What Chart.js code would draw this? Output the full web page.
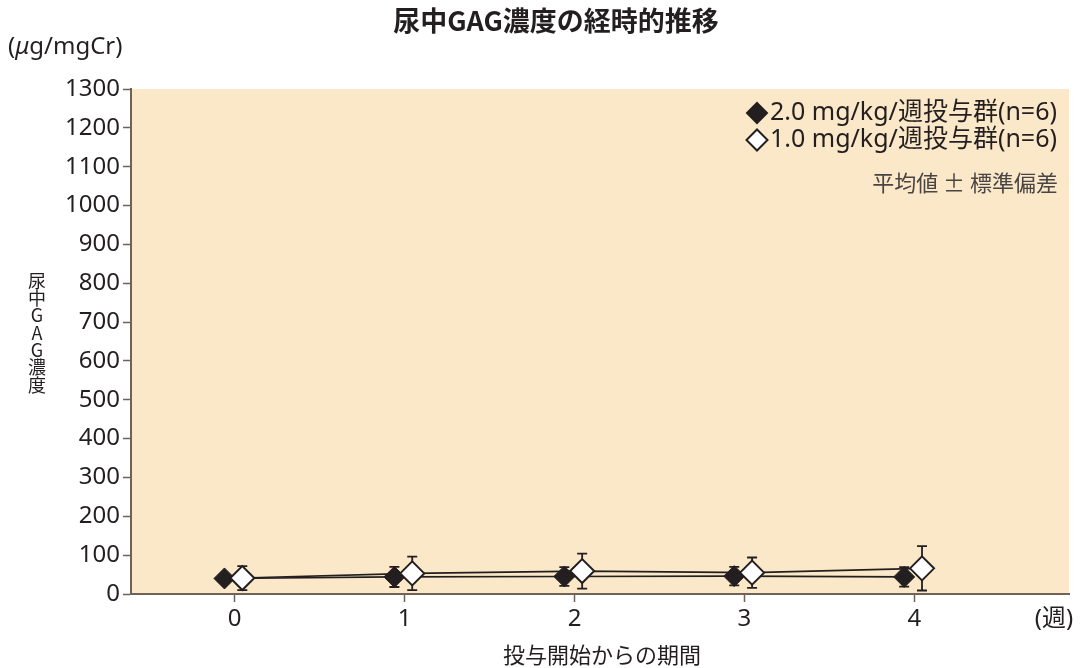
<!DOCTYPE html>
<html>
<head>
<meta charset="utf-8">
<script src="https://cdn.jsdelivr.net/npm/chart.js@4/dist/chart.umd.min.js"></script>
<style>
  html, body { margin: 0; padding: 0; background: #fff; }
  #wrap { width: 1083px; height: 668px; }
</style>
</head>
<body>
<div id="wrap"><canvas id="myChart"></canvas></div>
<script>
// data
const weeks = [0, 1, 2, 3, 4];
const weekLabels = ["0", "1", "2", "3", "4"];
const dose2Mean = [40, 44, 45, 46, 44];
const dose2Sd = [10, 26, 24, 24, 25];
const dose1Mean = [41, 53, 59, 55, 66];
const dose1Sd = [31, 43, 45, 39, 57];
const yTicks = [0, 100, 200, 300, 400, 500, 600, 700, 800, 900, 1000, 1100, 1200, 1300];

const INK = "#231f20";
const AXIS = "#6e6259";
const BG = "#fae8c8";
const FONT = '"Noto Sans", "Noto Sans CJK JP", sans-serif';
const JFONT = '"Noto Sans CJK JP", "Noto Sans", sans-serif';

// small side shift so the two groups don't sit on top of each other
const SHIFT2 = -0.06;
const SHIFT1 = 0.045;

// same order as the datasets below
const sdByDataset = [dose1Sd, dose2Sd];

const plotBg = {
  id: "plotBg",
  beforeDraw: (chart) => {
    const { ctx, chartArea } = chart;
    ctx.save();
    ctx.fillStyle = BG;
    ctx.fillRect(chartArea.left, chartArea.top, chartArea.right - chartArea.left, chartArea.bottom - chartArea.top);
    ctx.restore();
  },
};

const errorBars = {
  id: "errorBars",
  beforeDatasetDraw: (chart, args) => {
    const { ctx } = chart;
    const xs = chart.scales.x;
    const ys = chart.scales.y;
    const ds = chart.data.datasets[args.index];
    const sd = sdByDataset[args.index];
    ctx.save();
    ctx.strokeStyle = INK;
    ctx.lineWidth = 1.8;
    ds.data.forEach((p, i) => {
      const x = xs.getPixelForValue(p.x);
      const yt = ys.getPixelForValue(p.y + sd[i]);
      const yb = ys.getPixelForValue(p.y - sd[i]);
      ctx.beginPath();
      ctx.moveTo(x, yt);
      ctx.lineTo(x, yb);
      ctx.moveTo(x - 5, yt);
      ctx.lineTo(x + 5, yt);
      ctx.moveTo(x - 5, yb);
      ctx.lineTo(x + 5, yb);
      ctx.stroke();
    });
    ctx.restore();
  },
};

function diamond(ctx, x, y, r, fill) {
  ctx.beginPath();
  ctx.moveTo(x, y - r);
  ctx.lineTo(x + r, y);
  ctx.lineTo(x, y + r);
  ctx.lineTo(x - r, y);
  ctx.closePath();
  ctx.fillStyle = fill;
  ctx.fill();
  ctx.lineWidth = 2;
  ctx.strokeStyle = INK;
  ctx.stroke();
}

const texts = {
  id: "texts",
  afterDraw: (chart) => {
    const { ctx } = chart;
    ctx.save();
    ctx.fillStyle = INK;

    // title
    ctx.textAlign = "center";
    ctx.textBaseline = "middle";
    ctx.font = "bold 27px " + JFONT;
    ctx.fillText("尿中GAG濃度の経時的推移", 556, 21);

    // unit, with italic mu
    ctx.textAlign = "left";
    let ux = 8;
    ctx.font = "24px " + FONT;
    ctx.fillText("(", ux, 47);
    ux += ctx.measureText("(").width;
    ctx.font = "italic 24px " + FONT;
    ctx.fillText("μ", ux, 47);
    ux += ctx.measureText("μ").width;
    ctx.font = "24px " + FONT;
    ctx.fillText("g/mgCr)", ux, 47);

    // y title, stacked
    ctx.textAlign = "center";
    ctx.font = "18px " + JFONT;
    const yTitle = ["尿", "中", "G", "A", "G", "濃", "度"];
    yTitle.forEach((c, i) => ctx.fillText(c, 37, 281 + i * 17.3));

    // x title and unit
    ctx.font = "22px " + JFONT;
    ctx.fillText("投与開始からの期間", 602, 655);
    ctx.font = "24px " + FONT;
    ctx.fillText("(週)", 1054, 619);

    // legend
    const lx = 757;
    diamond(ctx, lx, 113, 10, INK);
    diamond(ctx, lx, 140, 10.5, "#fff");
    ctx.fillStyle = INK;
    ctx.textAlign = "left";
    ctx.font = "25px " + FONT;
    ctx.fillText("2.0 mg/kg/週投与群(n=6)", 770, 113);
    ctx.fillText("1.0 mg/kg/週投与群(n=6)", 770, 140);
    ctx.textAlign = "right";
    ctx.fillStyle = "#4a4544";
    ctx.font = "22px " + JFONT;
    ctx.fillText("平均値 ± 標準偏差", 1058, 183);
    ctx.restore();
  },
};

new Chart(document.getElementById("myChart"), {
  type: "line",
  data: {
    datasets: [
      {
        label: "1.0 mg/kg/週投与群(n=6)",
        data: weeks.map((w, i) => ({ x: w + SHIFT1, y: dose1Mean[i] })),
        borderColor: INK,
        borderWidth: 1.6,
        pointStyle: "rectRot",
        pointRadius: 12,
        pointBackgroundColor: "#fff",
        pointBorderColor: INK,
        pointBorderWidth: 2,
        order: 0,
      },
      {
        label: "2.0 mg/kg/週投与群(n=6)",
        data: weeks.map((w, i) => ({ x: w + SHIFT2, y: dose2Mean[i] })),
        borderColor: INK,
        borderWidth: 1.6,
        pointStyle: "rectRot",
        pointRadius: 10.5,
        pointBackgroundColor: INK,
        pointBorderColor: INK,
        pointBorderWidth: 1,
        order: 1,
      },
    ],
  },
  options: {
    responsive: true,
    maintainAspectRatio: false,
    animation: false,
    layout: { padding: { top: 89, right: 11, bottom: 0, left: 0 } },
    plugins: {
      legend: { display: false },
      tooltip: { enabled: false },
      title: { display: false },
    },
    scales: {
      x: {
        type: "linear",
        min: -0.61,
        max: 4.91,
        afterBuildTicks: (scale) => {
          scale.ticks = weeks.map((w) => ({ value: w }));
        },
        afterFit: (scale) => {
          scale.height = 74;
        },
        ticks: {
          color: INK,
          font: { family: FONT, size: 24 },
          padding: 3,
          callback: (v) => weekLabels[weeks.indexOf(v)],
        },
        grid: { drawOnChartArea: false, tickLength: 8, tickColor: AXIS, tickWidth: 1.5 },
        border: { color: AXIS, width: 2 },
      },
      y: {
        min: 0,
        max: 1300,
        afterBuildTicks: (scale) => {
          scale.ticks = yTicks.map((v) => ({ value: v }));
        },
        afterFit: (scale) => {
          scale.width = 131;
        },
        ticks: {
          color: INK,
          font: { family: FONT, size: 24 },
          padding: 3,
          callback: (v) => String(v),
        },
        grid: { drawOnChartArea: false, tickLength: 8, tickColor: AXIS, tickWidth: 1.5 },
        border: { color: AXIS, width: 2 },
      },
    },
  },
  plugins: [plotBg, errorBars, texts],
});
</script>
</body>
</html>
